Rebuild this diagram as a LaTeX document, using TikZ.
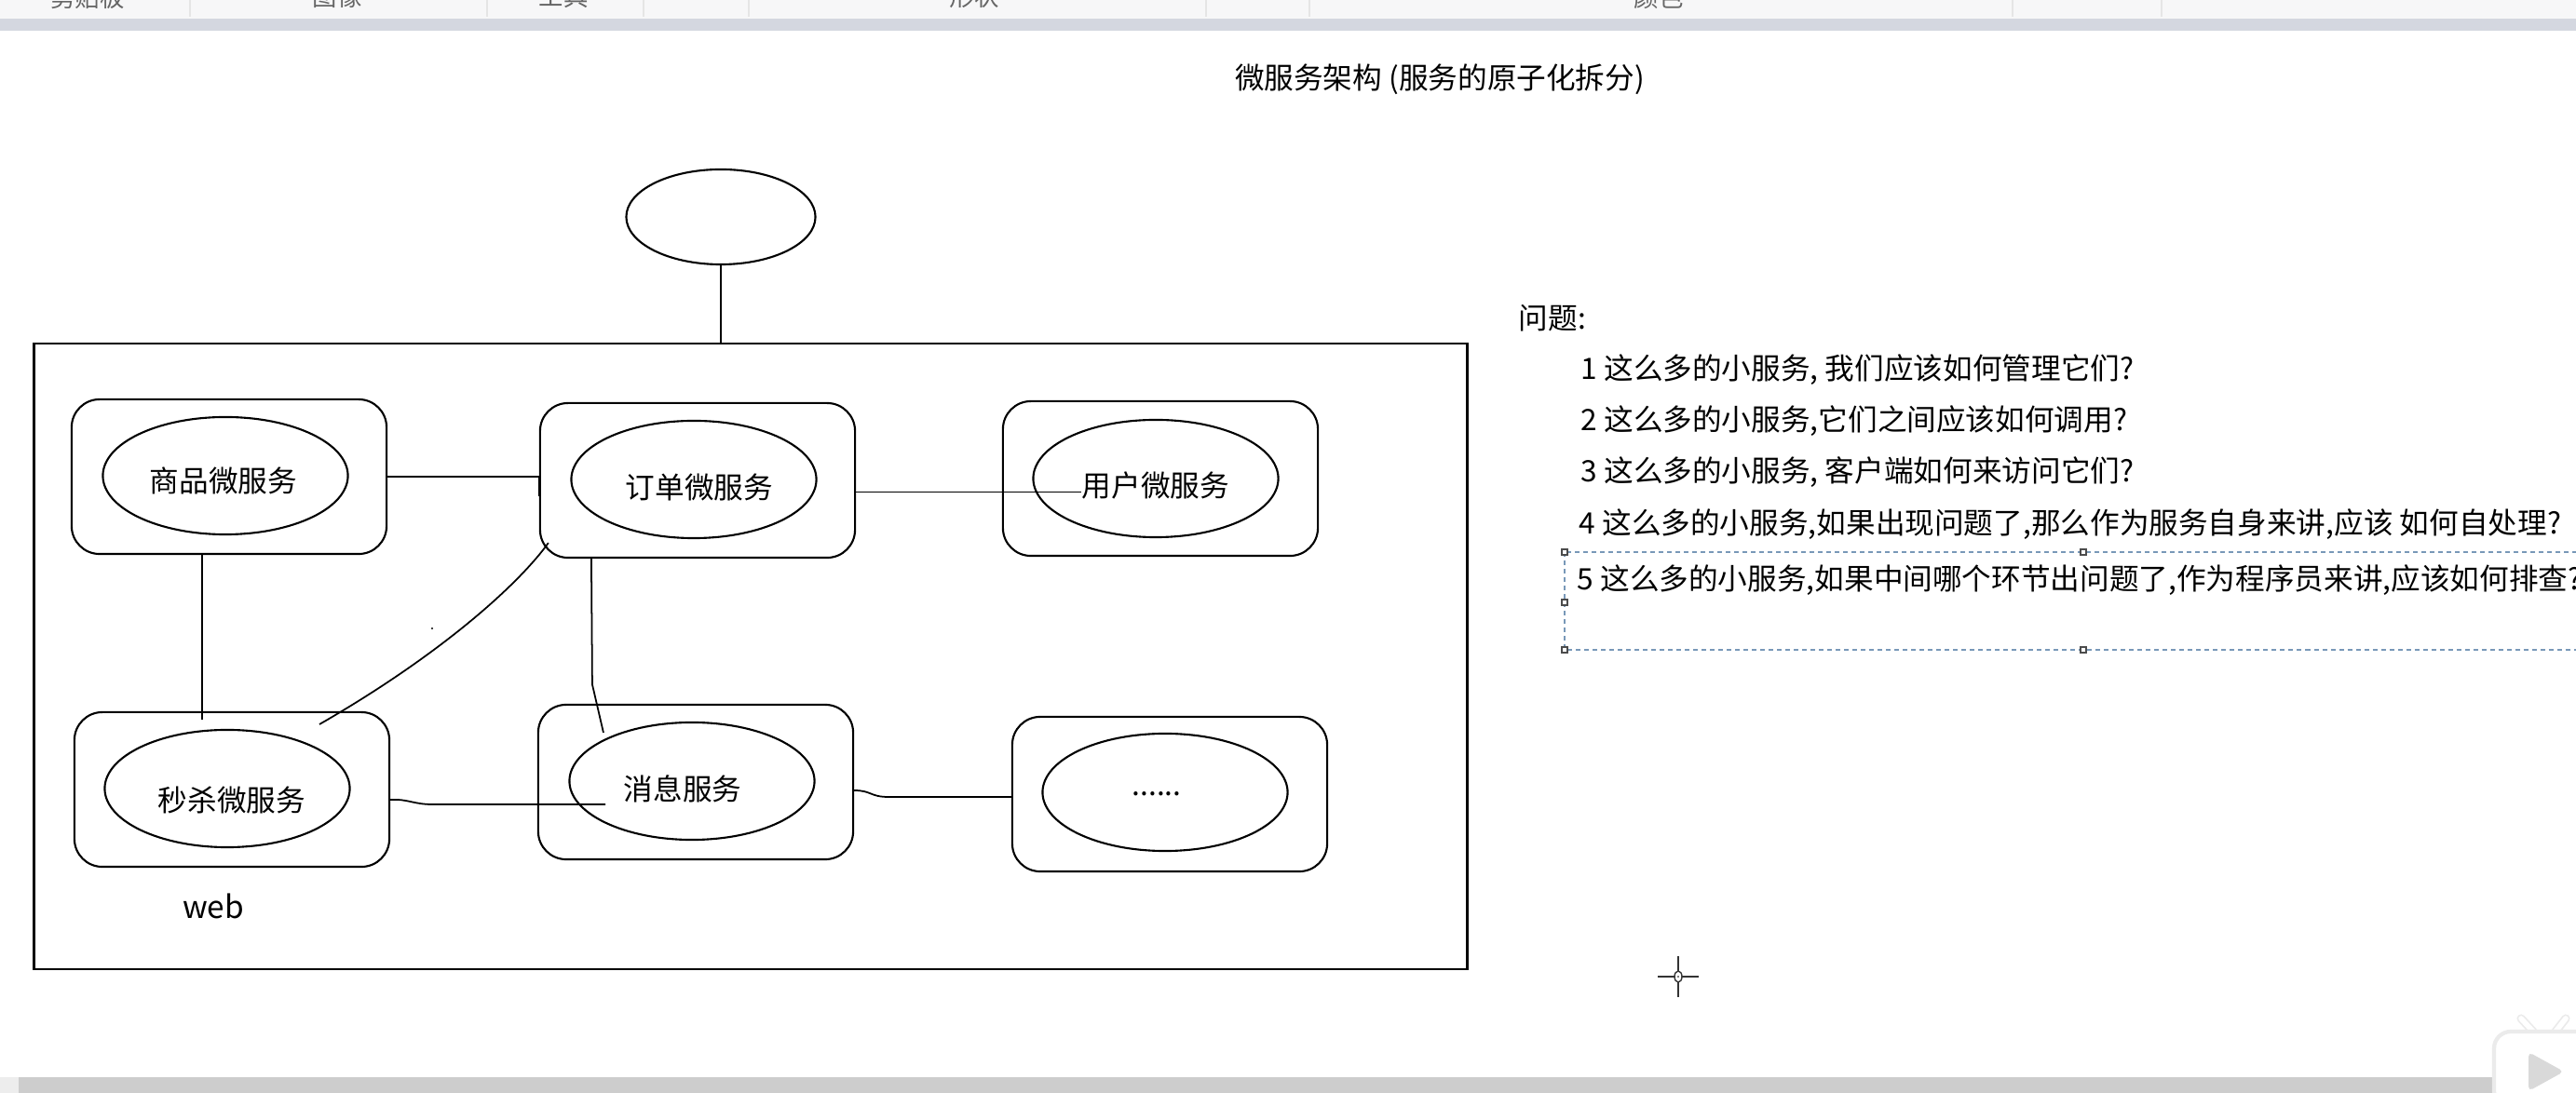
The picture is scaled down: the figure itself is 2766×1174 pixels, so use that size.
\documentclass[tikz,border=0pt]{standalone}
\usepackage{fontspec}
\setmainfont{Noto Sans CJK SC}
\usetikzlibrary{shapes.geometric}
\definecolor{ribbon}{RGB}{247,247,248}
\definecolor{barblue}{RGB}{212,215,224}
\definecolor{selblue}{RGB}{120,152,184}
\definecolor{scrollgray}{RGB}{205,205,205}
\newcommand\lblfont{\fontsize{9pt}{10pt}\selectfont}

\begin{document}
\begin{tikzpicture}[x=0.01cm,y=-0.01cm,box/.style={draw,rounded corners=0.3cm,line width=.6pt,minimum width=3.38cm,minimum height=1.66cm,inner sep=0pt},svc/.style={draw,ellipse,line width=.6pt,minimum width=2.63cm,minimum height=1.26cm,inner sep=0pt},lbl/.style={font=\lblfont,inner sep=0pt},link/.style={line width=.5pt},handle/.style={draw=black!70,fill=white,line width=.4pt,minimum size=0.06cm,inner sep=0pt}]
\useasboundingbox (0,0) rectangle (2766,1174);
\clip (0,0) rectangle (2766,1174);
\fill[white] (0,0) rectangle (2766,1174);

% window chrome
\fill[ribbon] (0,0) rectangle (2766,20);
\fill[barblue] (0,20) rectangle (2766,33);
\foreach \x in {204,523,691,804,1295,1406,2161,2321}
  \draw[black!10,line width=.4pt] (\x,0) -- (\x,18);
\foreach \x/\t [count=\i] in {94/剪贴板,362/图像,605/工具,1046/形状,1781/颜色}
  \node[font=\fontsize{7.5pt}{8pt}\selectfont,text=black!60,inner sep=0pt] (tab\i) at (\x,-3) {\t};
\fill[scrollgray] (0,1157) rectangle (2766,1174);
\fill[black!7] (0,1157) rectangle (20,1174);

\node[lbl] (title) at (1546,85) {微服务架构 (服务的原子化拆分)};

% web frame
\node[draw,line width=.6pt,minimum width=15.38cm,minimum height=6.72cm,inner sep=0pt] (web) at (806,705) {};
\node[svc,minimum width=2.03cm,minimum height=1.02cm] (gw) at (774,233) {};
\node[font=\fontsize{9.5pt}{10pt}\selectfont,inner sep=0pt] (webLbl) at (229,973) {web};

% services
\node[box] (spBox) at (246,512) {};
\node[svc] (sp) at (242,511) {};
\node[lbl] (spLbl) at (240,516) {商品微服务};
\node[box] (ddBox) at (749,516) {};
\node[svc] (dd) at (745,515) {};
\node[lbl] (ddLbl) at (751,524) {订单微服务};
\node[box] (yhBox) at (1246,514) {};
\node[svc] (yh) at (1241,514) {};
\node[lbl] (yhLbl) at (1241,522) {用户微服务};
\node[box] (msBox) at (249,848) {};
\node[svc] (ms) at (244,847) {};
\node[lbl] (msLbl) at (249,859) {秒杀微服务};
\node[box] (xxBox) at (747,840) {};
\node[svc] (xx) at (743,839) {};
\node[lbl] (xxLbl) at (733,847) {消息服务};
\node[box] (qtBox) at (1256,853) {};
\node[svc] (qt) at (1251,851) {};
\node[lbl] (qtLbl) at (1242,853) {......};

\coordinate (msIn) at (343,778);
\coordinate (xxIn) at (650,864);

% connectors
\draw[link] (gw.south) -- (gw.south |- web.north);
\draw[link] (spBox.east) -- (spBox.east -| ddBox.west) -- ++(0,21);
\draw[link] ([yshift=-0.125cm]ddBox.east) -- ([yshift=-0.125cm]ddBox.east -| yhLbl.west);
\draw[link] ([xshift=-0.29cm]spBox.south) -- ++(0,177);
\draw[link] ([shift={(0.1cm,0.17cm)}]ddBox.south west) .. controls (555,630) and (470,705) .. (msIn);
\draw[link] ([xshift=-1.14cm]ddBox.south) -- ++(1,135) -- ([shift={(-0.99cm,-0.31cm)}]xxBox.north);
\draw[link] ([yshift=-0.11cm]msBox.east) .. controls (438,858) and (444,864) .. (464,864) -- (xxIn);
\draw[link] ([yshift=-0.09cm]xxBox.east) .. controls (936,849) and (934,856) .. (954,856) -- ([yshift=-0.03cm]qtBox.west);
\fill (464,675) circle[radius=0.012cm];

% questions
\node[lbl,anchor=west] (q0) at (1630,342) {问题:};
\node[lbl,anchor=west] (q1) at (1697,397) {1 这么多的小服务, 我们应该如何管理它们?};
\node[lbl,anchor=west] (q2) at (1697,452) {2 这么多的小服务,它们之间应该如何调用?};
\node[lbl,anchor=west] (q3) at (1697,507) {3 这么多的小服务, 客户端如何来访问它们?};
\node[lbl,anchor=west] (q4) at (1695,563) {4 这么多的小服务,如果出现问题了,那么作为服务自身来讲,应该 如何自处理?};
\node[lbl,anchor=west] (q5) at (1693,623) {5 这么多的小服务,如果中间哪个环节出问题了,作为程序员来讲,应该如何排查?};
\draw[selblue,line width=.35pt,dash pattern=on 0.05cm off 0.04cm] (1680,593) rectangle (2794,698);
\foreach \x/\y [count=\i] in {1680/593,2237/593,1680/647,1680/698,2237/698}
  \node[handle] (h\i) at (\x,\y) {};

% cursor
\draw[black!80,line width=.6pt] (1802,1027) -- (1802,1071) (1780,1049) -- (1824,1049);
\node[draw=black!80,fill=white,ellipse,minimum width=0.08cm,minimum height=0.12cm,inner sep=0pt,line width=.4pt] (cur) at (1802,1049) {};
\fill (cur.center) circle[radius=0.008cm];

% logo
\draw[black!8,line width=2.6pt,line cap=round] (2707,1094) -- (2720,1108) (2755,1094) -- (2744,1108);
\draw[white,line width=1.6pt,line cap=round] (2707,1094) -- (2720,1108) (2755,1094) -- (2744,1108);
\fill[white,draw=black!8,line width=1.2pt,rounded corners=0.18cm] (2678,1108) rectangle (2800,1190);
\fill[black!15,rounded corners=0.05cm] (2715,1130) -- (2753,1151) -- (2715,1172) -- cycle;
\end{tikzpicture}
\end{document}
